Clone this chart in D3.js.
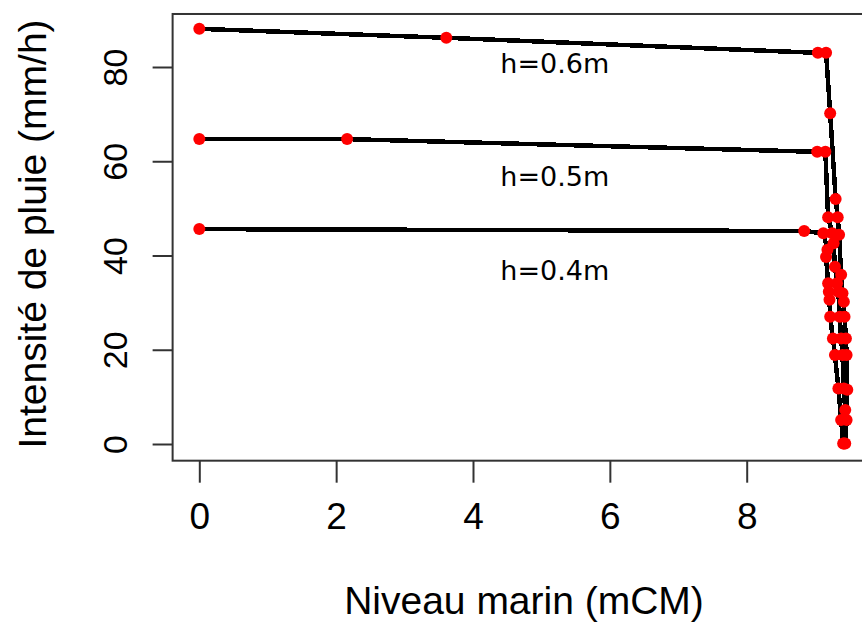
<!DOCTYPE html>
<html>
<head>
<meta charset="utf-8">
<script src="https://cdn.jsdelivr.net/npm/d3@7"></script>
<style>
  html, body { margin: 0; padding: 0; background: #fff; }
  svg { display: block; }
</style>
</head>
<body>
<svg id="chart" width="862" height="624"></svg>
<script>
// ---- data ----
const seriesNames = ["h=0.6m", "h=0.5m", "h=0.4m"];
const x06 = [0, 3.61, 9.04, 9.16, 9.22, 9.30, 9.33, 9.35, 9.38, 9.40, 9.42, 9.43, 9.45, 9.46, 9.47, 9.46, 9.44];
const y06 = [88.1, 86.2, 83.0, 83.0, 70.2, 52.0, 48.1, 44.4, 35.9, 32.0, 30.2, 27.0, 22.4, 18.9, 11.5, 5.1, 0.1];
const x05 = [0, 2.16, 9.03, 9.15, 9.19, 9.25, 9.27, 9.29, 9.32, 9.34, 9.36, 9.38, 9.40, 9.42, 9.44, 9.42];
const y05 = [64.7, 64.7, 62.0, 62.0, 48.1, 44.7, 42.6, 37.6, 34.1, 32.3, 27.0, 22.4, 18.9, 11.8, 7.2, 0.1];
const x04 = [0, 8.84, 9.12, 9.18, 9.16, 9.19, 9.20, 9.21, 9.22, 9.26, 9.29, 9.34, 9.38, 9.41];
const y04 = [45.6, 45.2, 44.7, 41.2, 39.7, 34.1, 32.3, 30.6, 27.0, 22.4, 18.9, 11.8, 5.1, 0.1];
const labelX = [4.4, 4.4, 4.4];
const labelY = [78.8, 54.8, 34.9];
const xTicks = [0, 2, 4, 6, 8];
const yTicks = [0, 20, 40, 60, 80];
const xTitle = "Niveau marin (mCM)";
const yTitle = "Intensité de pluie (mm/h)";

const seriesX = [x06, x05, x04];
const seriesY = [y06, y05, y04];

// ---- scales ----
const x = d3.scaleLinear().domain([0, 8]).range([199.3, 746.7]);
const y = d3.scaleLinear().domain([0, 80]).range([444, 67]);
const xMin = -0.39, xMax = 9.86, yMin = -3.54, yMax = 91.25;

const svg = d3.select("#chart");

// plot box
svg.append("rect")
  .attr("x", x(xMin)).attr("y", y(yMax))
  .attr("width", x(xMax) - x(xMin)).attr("height", y(yMin) - y(yMax))
  .attr("fill", "none").attr("stroke", "#333").attr("stroke-width", 2);

// x axis
const xAxis = d3.axisBottom(x).tickValues(xTicks).tickSize(22).tickPadding(20).tickFormat(d3.format("d"));
const gx = svg.append("g").attr("transform", `translate(0,${y(yMin)})`).call(xAxis);
gx.select(".domain").remove();
gx.selectAll(".tick line").attr("stroke", "#333").attr("stroke-width", 2);
gx.selectAll(".tick text")
  .attr("font-family", "'Liberation Sans', Arial, sans-serif")
  .attr("font-size", 37).attr("fill", "#000");

// y axis
const yAxis = d3.axisLeft(y).tickValues(yTicks).tickSize(20).tickPadding(0).tickFormat(d3.format("d"));
const gy = svg.append("g").attr("transform", `translate(${x(xMin)},0)`).call(yAxis);
gy.select(".domain").remove();
gy.selectAll(".tick line").attr("stroke", "#333").attr("stroke-width", 2);
gy.selectAll(".tick text")
  .attr("font-family", "'Liberation Sans', Arial, sans-serif")
  .attr("font-size", 34).attr("fill", "#000")
  .attr("x", null).attr("dy", null)
  .attr("text-anchor", "middle")
  .attr("transform", "translate(-58,0) rotate(-90)")
  .attr("dy", "0.36em");

// lines
const line = d3.line().x(d => x(d[0])).y(d => y(d[1]));
seriesX.forEach((xs, i) => {
  const pts = xs.map((v, j) => [v, seriesY[i][j]]);
  svg.append("path").datum(pts)
    .attr("d", line)
    .attr("fill", "none").attr("stroke", "#000").attr("stroke-width", 4.5)
    .attr("stroke-linejoin", "round")
    .attr("shape-rendering", "crispEdges");
});
// points
seriesX.forEach((xs, i) => {
  const pts = xs.map((v, j) => [v, seriesY[i][j]]);
  svg.append("g").selectAll("circle").data(pts).join("circle")
    .attr("cx", d => x(d[0])).attr("cy", d => y(d[1])).attr("r", 6)
    .attr("fill", "#ff0000");
});

// series labels
svg.append("g").selectAll("text").data(seriesNames).join("text")
  .attr("x", (d, i) => x(labelX[i])).attr("y", (d, i) => y(labelY[i]))
  .attr("font-family", "'DejaVu Sans', Verdana, sans-serif")
  .attr("font-size", 27).attr("fill", "#000")
  .text(d => d);

// axis titles
svg.append("text")
  .attr("x", 524).attr("y", 614).attr("text-anchor", "middle")
  .attr("font-family", "'Liberation Sans', Arial, sans-serif")
  .attr("font-size", 39).attr("fill", "#000")
  .text(xTitle);
svg.append("text")
  .attr("transform", "translate(46,234) rotate(-90)").attr("text-anchor", "middle")
  .attr("font-family", "'Liberation Sans', Arial, sans-serif")
  .attr("font-size", 39).attr("fill", "#000")
  .text(yTitle);
</script>
</body>
</html>
